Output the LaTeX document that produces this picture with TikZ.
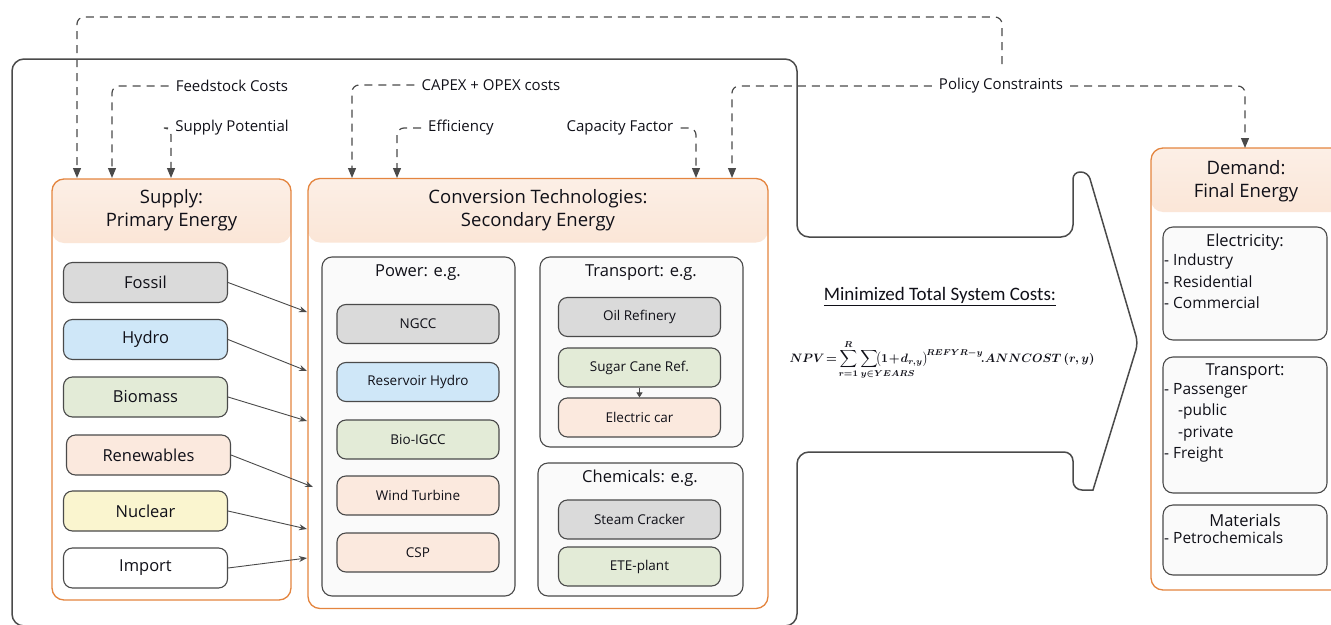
\documentclass[tikz,border=0pt]{standalone}
\usepackage{amsmath}
\usepackage{mathtools}
\usepackage{fontspec}
\setmainfont{Open Sans}
\newfontfamily\calibri{Carlito}
\usetikzlibrary{arrows.meta}

\definecolor{edge}{HTML}{4A4A4A}
\definecolor{orng}{HTML}{E4853F}
\definecolor{hdtop}{HTML}{FCEFE6}
\definecolor{hdbot}{HTML}{F2B282}
\definecolor{fossilc}{HTML}{DADADA}
\definecolor{hydroc}{HTML}{CFE7F8}
\definecolor{bioc}{HTML}{E3EBD7}
\definecolor{renewc}{HTML}{FBE9DE}
\definecolor{nuclc}{HTML}{FAF5CF}
\definecolor{ink}{HTML}{101018}

\begin{document}
\begin{tikzpicture}[x=1pt, y=-1pt,
  every node/.style={text=ink},
  areabox/.style={draw=orng, line width=1.3pt, rounded corners=12pt, fill=white},
  hdshade/.style={path picture={\shade[top color=hdtop, bottom color=hdbot]
    (path picture bounding box.north west) rectangle ([yshift=-64pt]path picture bounding box.north east);}},
  head/.style={font=\fontsize{18.5}{23}\selectfont, align=center},
  groupbox/.style={draw=edge, line width=1.1pt, rounded corners=10pt, fill=black!2},
  itembox/.style={draw=edge, line width=1.1pt, rounded corners=9pt, minimum width=164pt,
    minimum height=40pt, font=\fontsize{16.5}{19}\selectfont},
  techbox/.style={itembox, minimum width=162pt, minimum height=39pt, font=\fontsize{13.5}{16}\selectfont},
  dasharrow/.style={draw=edge, line width=1.2pt, dash pattern=on 8pt off 6pt, rounded corners=7pt,
    -{Triangle[length=10pt,width=8pt]}},
  flow/.style={draw=edge, line width=0.9pt, -{Stealth[length=8pt,width=6pt]}},
  lbl/.style={font=\fontsize{15}{18}\selectfont, inner xsep=7pt},
  gtitle/.style={font=\fontsize{16.5}{19}\selectfont},
  dlist/.style={font=\fontsize{15.5}{21.5}\selectfont, align=left, inner sep=2pt},
  outline/.style={draw=edge, line width=1.5pt, rounded corners=12pt}]
  \useasboundingbox (0,0) rectangle (1331,624);

  % big arrow outline
  \draw[outline] (400,626) -- (12,626) -- (12,59) -- (797,59) -- (797,237)
    -- (1073,237) [rounded corners=7pt] -- (1073,172) -- (1088,172) -- (1138,343)
    [sharp corners] -- (1093,490) [rounded corners=9pt] -- (1073,490) -- (1073,452)
    [rounded corners=12pt] -- (797,452) -- (797,626) -- cycle;

  % areas
  \node[areabox, hdshade, minimum width=239pt, minimum height=421pt] (supply) at (171.5,389.5) {};
  \node[head] (supplyhd) at (171.5,210) {Supply:\\Primary Energy};
  \node[areabox, hdshade, minimum width=460pt, minimum height=430pt] (conv) at (538,393.5) {};
  \node[head] (convhd) at (538,210) {Conversion Technologies:\\Secondary Energy};
  \node[areabox, hdshade, minimum width=193pt, minimum height=442pt] (demand) at (1247.5,369) {};
  \node[head] (demandhd) at (1246,181) {Demand:\\Final Energy};

  % primary energy
  \node[itembox, fill=fossilc] (fossil) at (145.5,282.5) {Fossil};
  \node[itembox, fill=hydroc] (hydro) at (145.5,339.5) {Hydro};
  \node[itembox, fill=bioc] (biomass) at (145.5,397) {Biomass};
  \node[itembox, fill=renewc] (renew) at (148.5,455) {Renewables};
  \node[itembox, fill=nuclc] (nuclear) at (145.5,511) {Nuclear};
  \node[itembox, fill=white] (import) at (145.5,568) {Import};

  % secondary energy
  \node[groupbox, minimum width=193pt, minimum height=339pt] (power) at (418.5,426.5) {};
  \node[gtitle] (powert) at (418,273) {Power: e.g.};
  \node[techbox, fill=fossilc] (ngcc) at (418,324) {NGCC};
  \node[techbox, fill=hydroc] (reshydro) at (418,382) {Reservoir Hydro};
  \node[techbox, fill=bioc] (bioigcc) at (418,439.5) {Bio-IGCC};
  \node[techbox, fill=renewc] (wind) at (418,495.5) {Wind Turbine};
  \node[techbox, fill=renewc] (csp) at (418,552.5) {CSP};

  \node[groupbox, minimum width=203pt, minimum height=190pt] (transp) at (641.5,352) {};
  \node[gtitle] (transpt) at (641,273) {Transport: e.g.};
  \node[techbox, fill=fossilc] (oil) at (639.5,317) {Oil Refinery};
  \node[techbox, fill=bioc] (sugar) at (639.5,367.5) {Sugar Cane Ref.};
  \node[techbox, fill=renewc] (ecar) at (639.5,417.5) {Electric car};

  \node[groupbox, minimum width=205pt, minimum height=133pt] (chem) at (640.5,529.5) {};
  \node[gtitle] (chemt) at (640,478) {Chemicals: e.g.};
  \node[techbox, fill=fossilc] (steam) at (639.5,519.5) {Steam Cracker};
  \node[techbox, fill=bioc] (ete) at (639.5,566.5) {ETE-plant};

  \draw[-{Triangle[length=5pt,width=6pt]}, draw=edge, line width=0.8pt] (sugar) -- (ecar);

  % final energy
  \node[groupbox, minimum width=164pt, minimum height=113pt] (elec) at (1245,283.5) {};
  \node[gtitle] (elect) at (1245,242) {Electricity:};
  \node[dlist, anchor=north west] (elecl) at (1162,252) {- Industry\\- Residential\\- Commercial};
  \node[groupbox, minimum width=164pt, minimum height=136pt] (dtransp) at (1245,425) {};
  \node[gtitle] (dtranspt) at (1245,372) {Transport:};
  \node[dlist, anchor=north west] (dtranspl) at (1162,381)
    {- Passenger\\\hspace*{0.9em}-public\\\hspace*{0.9em}-private\\- Freight};
  \node[groupbox, minimum width=164pt, minimum height=70pt] (mater) at (1245,540) {};
  \node[gtitle] (matert) at (1245,520) {Materials};
  \node[dlist, anchor=north west] (materl) at (1162,530) {- Petrochemicals};

  % objective
  \node[font=\calibri\fontsize{19}{22}\selectfont] (mintitle) at (940,297) {\underline{Minimized Total System Costs:}};
  \node (npv) at (942,360)
    {\resizebox{305pt}{!}{\boldmath$\displaystyle NPV\!=\!\sum_{r=1}^{R}\sum_{\mathrlap{\kern-0.7em y\in YEARS}}\!\bigl(1\!+\!d_{r,y}\bigr)^{\!REFYR-y}\!.ANNCOST\,(r,y)$}};

  % parameters
  \node[lbl] (feed) at (232,86) {Feedstock Costs};
  \node[lbl] (suppot) at (232,128) {Supply Potential};
  \node[lbl] (capex) at (491,85) {CAPEX + OPEX costs};
  \node[lbl] (eff) at (461,128) {Efficiency};
  \node[lbl] (capfac) at (620,128) {Capacity Factor};
  \node[lbl] (policy) at (1001,86) {Policy Constraints};

  \coordinate (sup0) at (77,178);
  \coordinate (sup1) at (112,178);
  \coordinate (sup2) at (171,178);
  \coordinate (conv1) at (352,178);
  \coordinate (conv2) at (397,178);
  \coordinate (conv3) at (696,178);
  \coordinate (conv4) at (732,178);
  \coordinate (dem0) at (1245,148);
  \coordinate (loopend) at (1002,64);
  \coordinate (looptop) at (540,17);

  \draw[dasharrow] (loopend) |- (looptop) -| (sup0);
  \draw[dasharrow] (feed.west) -| (sup1);
  \draw[dasharrow] (suppot.west) -| (sup2);
  \draw[dasharrow] (capex.west) -| (conv1);
  \draw[dasharrow] (eff.west) -| (conv2);
  \draw[dasharrow] (capfac.east) -| (conv3);
  \draw[dasharrow] (policy.west) -| (conv4);
  \draw[dasharrow] (policy.east) -| (dem0);

  % flows into conversion
  \coordinate (in1) at (307,312);
  \coordinate (in2) at (307,371);
  \coordinate (in3) at (307,421);
  \coordinate (in4) at (313,487);
  \coordinate (in5) at (307,529);
  \coordinate (in6) at (307,558);
  \draw[flow] (fossil.east) -- (in1);
  \draw[flow] (hydro.east) -- (in2);
  \draw[flow] (biomass.east) -- (in3);
  \draw[flow] (renew.east) -- (in4);
  \draw[flow] (nuclear.east) -- (in5);
  \draw[flow] (import.east) -- (in6);
\end{tikzpicture}
\end{document}
